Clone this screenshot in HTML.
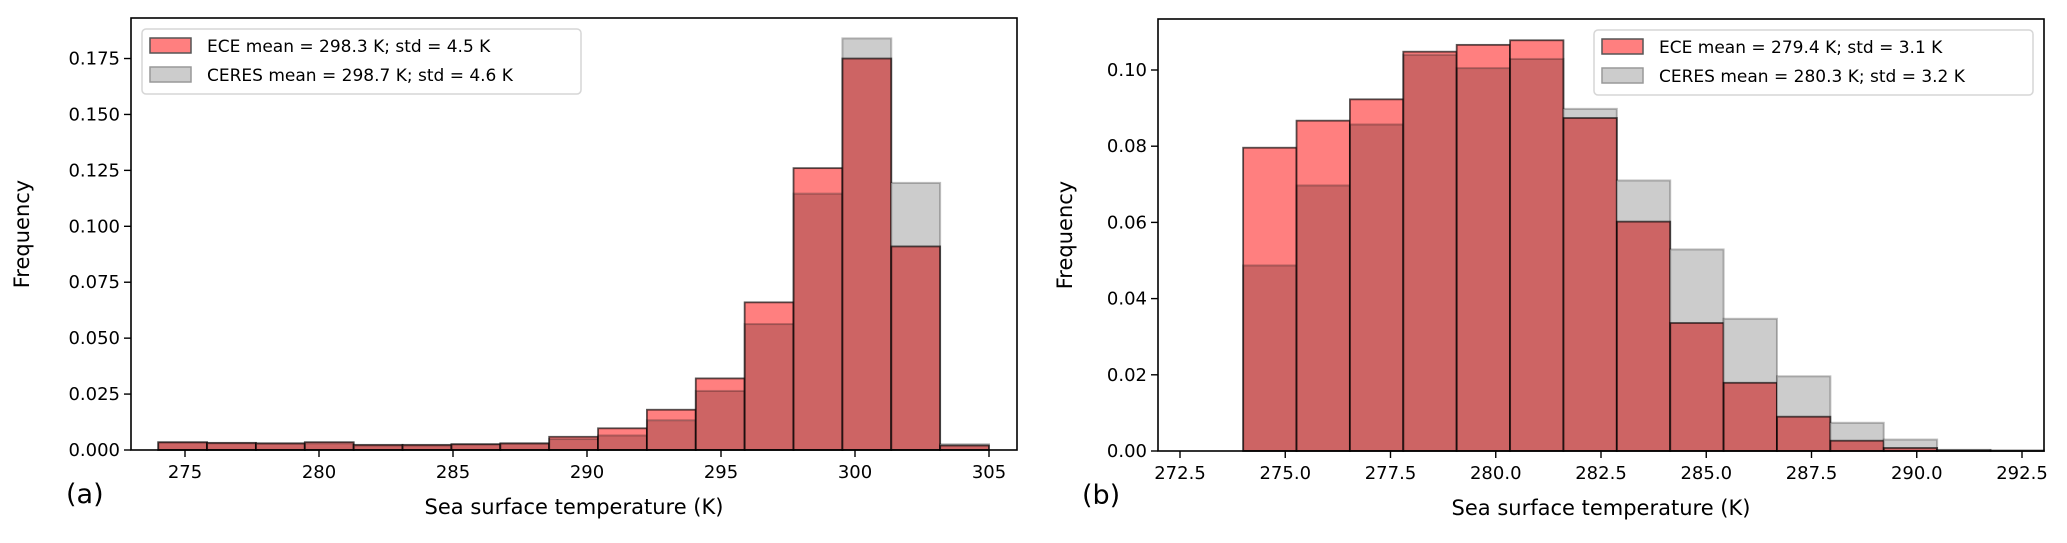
<!DOCTYPE html>
<html><head><meta charset="utf-8"><style>
body{margin:0;background:#fff}
svg text{font-family:"DejaVu Sans","Liberation Sans",sans-serif;fill:#000}
</style></head><body>
<svg id="fig" width="2067" height="538" xmlns="http://www.w3.org/2000/svg"></svg>
<script>
// Panel (a) data
const aEdges0 = 274, aBinW = 31/17;
const aEce = [0.0035,0.0032,0.0030,0.0035,0.0023,0.0023,0.0026,0.0030,0.0059,0.0097,0.018,0.032,0.066,0.126,0.175,0.091,0.002];
const aCeres = [0.0033,0.0030,0.0028,0.0030,0.0020,0.0020,0.0025,0.0028,0.0049,0.0065,0.0133,0.0264,0.0563,0.1146,0.184,0.1194,0.0026];
const aXTicks = [275,280,285,290,295,300,305];
const aYTicks = [0,0.025,0.05,0.075,0.1,0.125,0.15,0.175];
const aYLabels = ["0.000","0.025","0.050","0.075","0.100","0.125","0.150","0.175"];
const aLegend = ["ECE mean = 298.3 K; std = 4.5 K","CERES mean = 298.7 K; std = 4.6 K"];
// Panel (b) data
const bEdges0 = 274, bBinW = 1.268;
const bEce = [0.0796,0.0867,0.0923,0.1048,0.1066,0.1078,0.0874,0.0602,0.0336,0.0179,0.009,0.0027,0.0008,0.0002,0.0001];
const bCeres = [0.0487,0.0697,0.0857,0.104,0.1005,0.1029,0.0898,0.071,0.0529,0.0347,0.0196,0.0074,0.003,0.0003,0.0001];
const bXTicks = [272.5,275,277.5,280,282.5,285,287.5,290,292.5];
const bXLabels = ["272.5","275.0","277.5","280.0","282.5","285.0","287.5","290.0","292.5"];
const bYTicks = [0,0.02,0.04,0.06,0.08,0.1];
const bYLabels = ["0.00","0.02","0.04","0.06","0.08","0.10"];
const bLegend = ["ECE mean = 279.4 K; std = 3.1 K","CERES mean = 280.3 K; std = 3.2 K"];

const svg = document.getElementById('fig');
const NS = "http://www.w3.org/2000/svg";
function mk(tag, attrs, parent){const e=document.createElementNS(NS,tag);for(const k in attrs)e.setAttribute(k,attrs[k]);(parent||svg).appendChild(e);return e;}

function panel(cfg){
  const g = mk('g',{});
  
  
  const X = v => cfg.px0 + (v - cfg.xv0) * cfg.pxPerX;
  const Y = v => cfg.py0 - v * cfg.pxPerY;
  for(let i=0;i<cfg.ece.length;i++){
    const x0 = X(cfg.e0 + i*cfg.bw), x1 = X(cfg.e0 + (i+1)*cfg.bw);
    const e = cfg.ece[i], c = cfg.ceres[i];
    const hi = Math.max(e,c), lo = Math.min(e,c);
    const top = mk('rect',{x:x0,y:Y(hi),width:x1-x0,height:Y(lo)-Y(hi),fill:e>c?'#ff7f7f':'#cccccc'},g);
    
    
    const ov = mk('rect',{x:x0,y:Y(lo),width:x1-x0,height:Y(0)-Y(lo),fill:'#cd6464'},g);
    
    
    const oc = mk('rect',{x:x0,y:Y(c),width:x1-x0,height:Y(0)-Y(c),fill:'none',stroke:'#000','stroke-opacity':0.25,'stroke-width':2},g);
    
    
    const oe = mk('rect',{x:x0,y:Y(e),width:x1-x0,height:Y(0)-Y(e),fill:'none',stroke:'#000','stroke-opacity':0.65,'stroke-width':1.8},g);
    
    
  }
  const frame = mk('rect',{x:cfg.L,y:cfg.T,width:cfg.R-cfg.L,height:cfg.B-cfg.T,fill:'none',stroke:'#000','stroke-width':1.6},g);
  
  
  cfg.xt.forEach((v,i)=>{
    mk('line',{x1:X(v),x2:X(v),y1:cfg.B,y2:cfg.B+7,stroke:'#000','stroke-width':1.4},g);
    const t = mk('text',{x:X(v),y:cfg.B+28,'text-anchor':'middle','font-size':18},g);
    t.textContent = cfg.xl[i];
    
    
  });
  cfg.yt.forEach((v,i)=>{
    mk('line',{x1:cfg.L-7,x2:cfg.L,y1:Y(v),y2:Y(v),stroke:'#000','stroke-width':1.4},g);
    const t = mk('text',{x:cfg.L-11,y:Y(v)+6,'text-anchor':'end','font-size':18},g);
    t.textContent = cfg.yl[i];
    
    
  });
  const xt = mk('text',{x:(cfg.L+cfg.R)/2,y:cfg.B+64,'text-anchor':'middle','font-size':21},g);
  xt.textContent = 'Sea surface temperature (K)';
  
  
  const yt = mk('text',{x:0,y:0,'text-anchor':'middle','font-size':21,transform:`translate(${cfg.yTitleX},${(cfg.T+cfg.B)/2}) rotate(-90)`},g);
  yt.textContent = 'Frequency';
  
  
  const pl = mk('text',{x:cfg.tagX,y:cfg.B+53,'font-size':27},g);
  pl.textContent = cfg.tag;
  
  
  // legend
  const lg = mk('g',{},g);
  
  
  mk('rect',{x:cfg.lx,y:cfg.ly,width:cfg.lw,height:65,rx:4,fill:'#fff','fill-opacity':0.8,stroke:'#d6d6d6','stroke-width':1.5},lg);
  const cols=['#ff7f7f','#cccccc'], strokes=['#555','#999'];
  cfg.leg.forEach((s,i)=>{
    const p = mk('rect',{x:cfg.lx+8,y:cfg.ly+9+i*29,width:41,height:15,fill:cols[i],stroke:strokes[i],'stroke-width':1.5},lg);
    
    
    const t = mk('text',{x:cfg.lx+65,y:cfg.ly+23+i*29,'font-size':17},lg);
    t.textContent = s;
    
    
  });
}
panel({name:'panel-a',L:131,R:1017,T:18,B:450,px0:185,xv0:275,pxPerX:26.8,py0:450,pxPerY:2237,
  e0:aEdges0,bw:aBinW,ece:aEce,ceres:aCeres,xt:aXTicks,xl:aXTicks.map(String),yt:aYTicks,yl:aYLabels,
  leg:aLegend,lx:142,ly:29,lw:439,yTitleX:29,tagX:66,tag:'(a)'});
panel({name:'panel-b',L:1158,R:2044,T:19,B:451,px0:1180,xv0:272.5,pxPerX:42.1,py0:451,pxPerY:3810,
  e0:bEdges0,bw:bBinW,ece:bEce,ceres:bCeres,xt:bXTicks,xl:bXLabels,yt:bYTicks,yl:bYLabels,
  leg:bLegend,lx:1594,ly:30,lw:439,yTitleX:1072,tagX:1082,tag:'(b)'});
</script>
</body></html>
